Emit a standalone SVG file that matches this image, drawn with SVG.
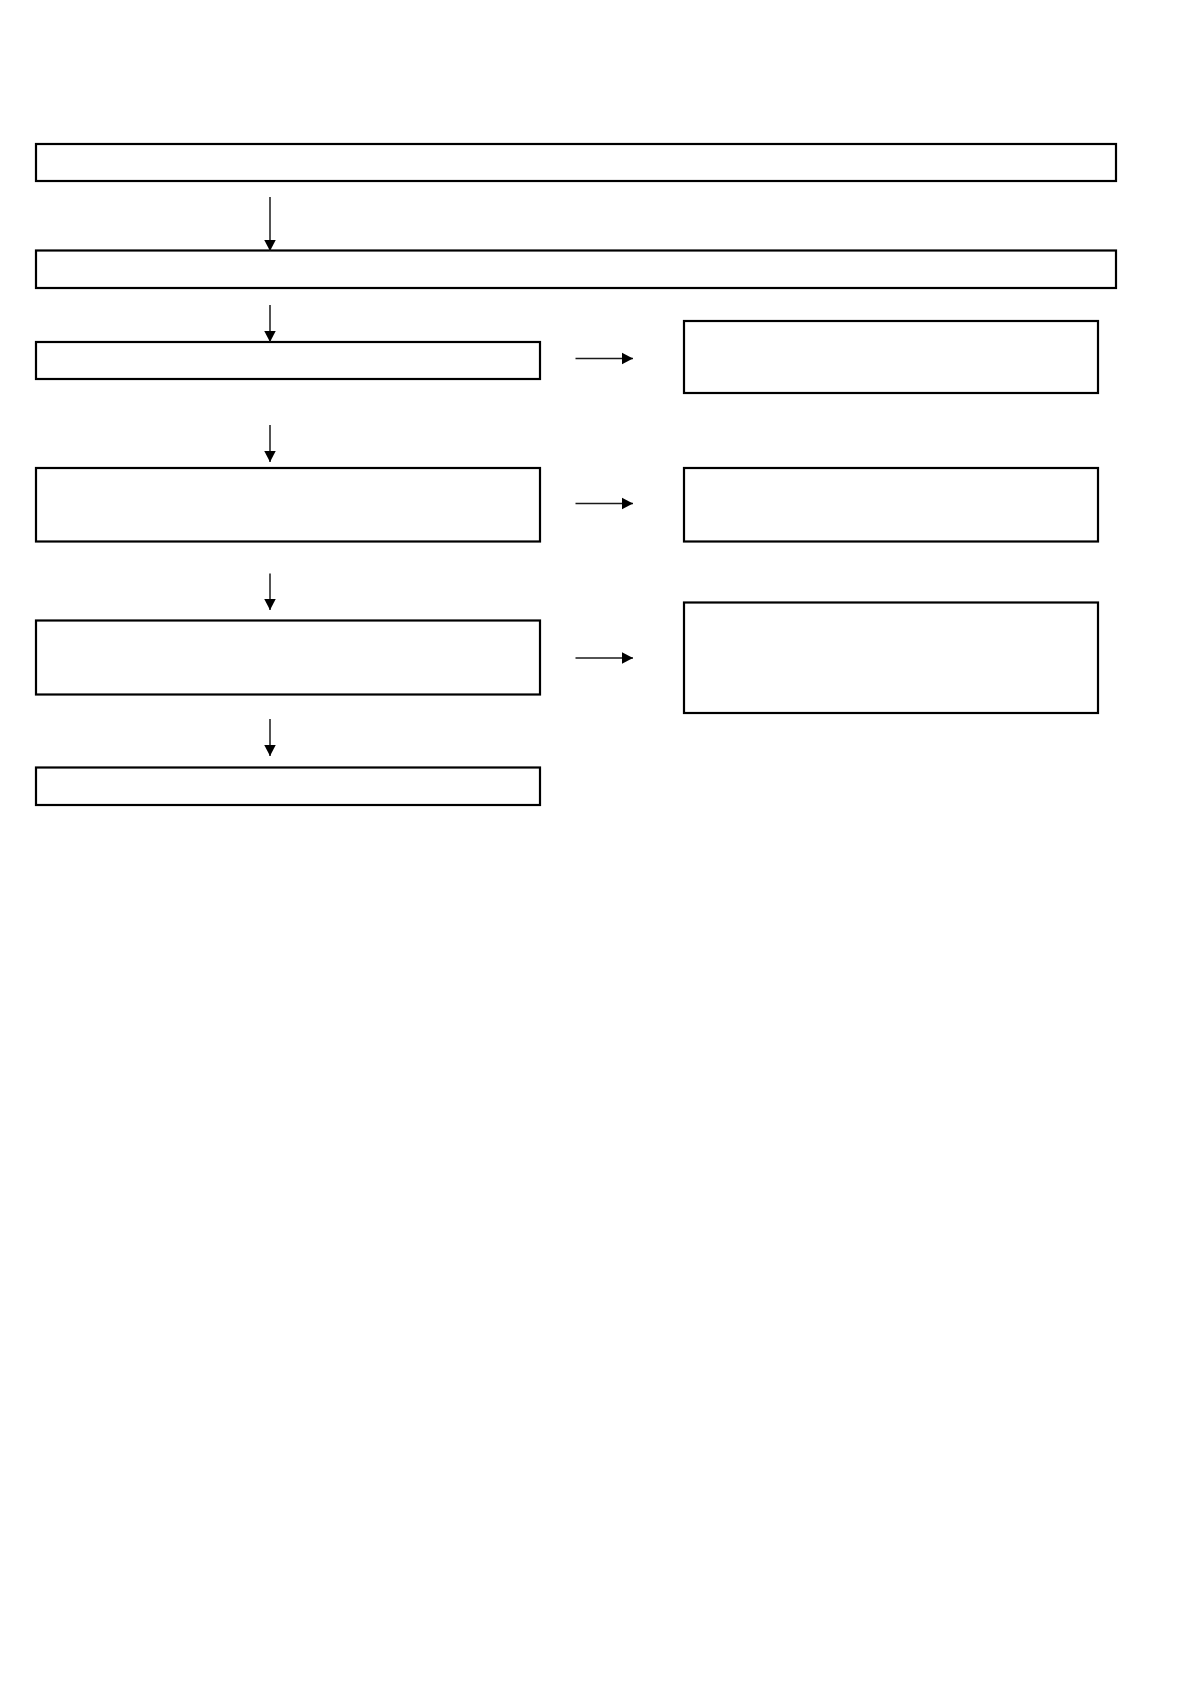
<svg xmlns="http://www.w3.org/2000/svg" width="1190" height="1684" viewBox="0 0 1190 1684">
<style>
.box{fill:#ffffff;stroke:#000000;stroke-width:2.2}
.conn{stroke:#1a1a1a;stroke-width:1.5;fill:none;marker-end:url(#ah)}
</style>
<defs>
<marker id="ah" markerUnits="userSpaceOnUse" markerWidth="13" markerHeight="13" refX="11.5" refY="6.5" orient="auto">
<path d="M0,0.5 L11.5,6.5 L0,12.5 Z" fill="#000000"/>
</marker>
</defs>
<rect x="0" y="0" width="1190" height="1684" fill="#ffffff"/>
<g id="node-top"><rect class="box" x="36" y="144" width="1080" height="37"/></g>
<g id="node-second"><rect class="box" x="36" y="250.5" width="1080" height="37.5"/></g>
<g id="node-left1"><rect class="box" x="36" y="342" width="504" height="37"/></g>
<g id="node-right1"><rect class="box" x="684" y="321" width="414" height="72"/></g>
<g id="node-left2"><rect class="box" x="36" y="468" width="504" height="73.5"/></g>
<g id="node-right2"><rect class="box" x="684" y="468" width="414" height="73.5"/></g>
<g id="node-left3"><rect class="box" x="36" y="620.5" width="504" height="74"/></g>
<g id="node-right3"><rect class="box" x="684" y="602.5" width="414" height="110.5"/></g>
<g id="node-left4"><rect class="box" x="36" y="767.5" width="504" height="37.5"/></g>
<g id="connectors">
<line class="conn" x1="270" y1="197" x2="270" y2="251"/>
<line class="conn" x1="270" y1="305" x2="270" y2="342"/>
<line class="conn" x1="270" y1="425" x2="270" y2="462"/>
<line class="conn" x1="270" y1="573.5" x2="270" y2="610"/>
<line class="conn" x1="270" y1="719" x2="270" y2="756"/>
<line class="conn" x1="575.5" y1="358.5" x2="633" y2="358.5"/>
<line class="conn" x1="575.5" y1="503.5" x2="633" y2="503.5"/>
<line class="conn" x1="575.5" y1="658" x2="633" y2="658"/>
</g>
</svg>
